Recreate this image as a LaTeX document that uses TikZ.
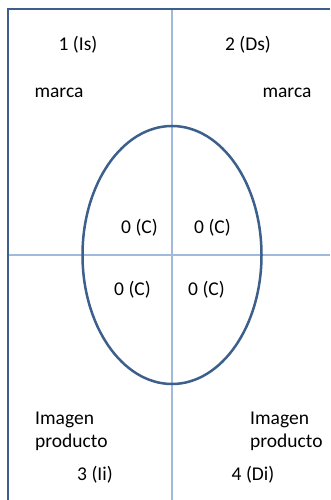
\documentclass[tikz,border=0pt]{standalone}
\usepackage{fontspec}
\setmainfont{Carlito}
\usepackage{xcolor}
\usetikzlibrary{shapes.geometric}
\definecolor{mapblue}{HTML}{3C5F8C}
\definecolor{axisblue}{HTML}{9FBADB}

\begin{document}
\begin{tikzpicture}[x=1pt, y=-1pt, font=\fontsize{19.5}{23}\selectfont]
  \tikzstyle{axis}=[draw=axisblue, line width=1.5pt]
  \tikzstyle{frame}=[draw=mapblue, line width=2.5pt]
  \tikzstyle{label}=[inner sep=0pt, text=black]
  \tikzstyle{note}=[inner sep=0pt, text=black, align=left, anchor=west]

  \useasboundingbox (0,0) rectangle (330,500);

  % axes
  \coordinate (top) at (172,9);
  \coordinate (bottom) at (172,500);
  \coordinate (left) at (8,255);
  \coordinate (right) at (330,255);
  \coordinate (corner) at (8,9);
  \coordinate (topend) at (330,9);
  \draw[axis] (top) -- (bottom);
  \draw[axis] (left) -- (right);
  \draw[frame] (topend) -- (corner) -- (8,500);

  \node[ellipse, draw=mapblue, line width=2.5pt, minimum width=179pt, minimum height=258pt, inner sep=0pt] (core) at (172,255) {};

  % quadrants
  \node[label] (is) at (78,45) {1 (Is)};
  \node[label] (ds) at (248,45) {2 (Ds)};
  \node[label] (ii) at (95,475) {3 (Ii)};
  \node[label] (di) at (253,475) {4 (Di)};

  \node[label] (brandl) at (59,93) {marca};
  \node[label] (brandr) at (287,93) {marca};

  \node[label] (c1) at (139.5,228) {0 (C)};
  \node[label] (c2) at (212.5,228) {0 (C)};
  \node[label] (c3) at (132.5,290) {0 (C)};
  \node[label] (c4) at (206.5,290) {0 (C)};

  \node[note] (imgl) at (35,431.5) {Imagen\\producto};
  \node[note] (imgr) at (250,431.5) {Imagen\\producto};
\end{tikzpicture}
\end{document}
